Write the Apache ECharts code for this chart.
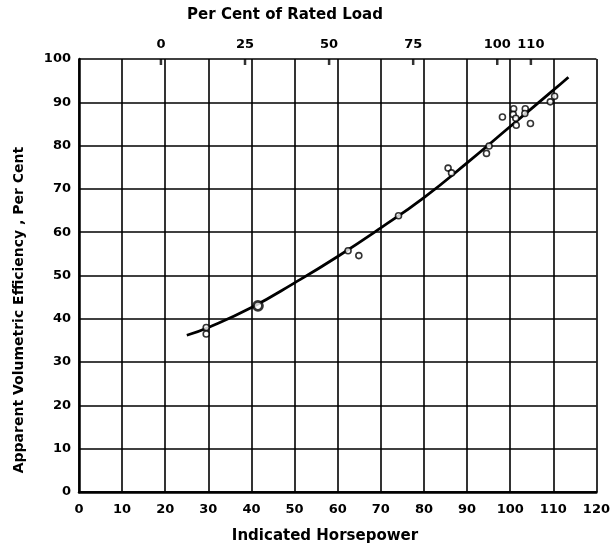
<!DOCTYPE html>
<html>
<head>
<meta charset="utf-8">
<script src="https://cdn.jsdelivr.net/npm/echarts@6/dist/echarts.min.js"></script>
<style>html,body{margin:0;padding:0;background:#fff}#c{width:613px;height:550px}</style>
</head>
<body>
<div id="c"></div>
<script>
// Observed points: indicated horsepower vs apparent volumetric efficiency (%)
const pointsHp  = [29.5, 29.5, 62.4, 64.9, 74.1, 85.6, 86.4, 94.5, 95.1, 98.2, 100.8, 100.7, 101.3, 101.4, 103.5, 103.4, 104.7, 109.3, 110.3];
const pointsEff = [38.0, 36.5, 55.7, 54.6, 63.8, 74.8, 73.7, 78.2, 79.9, 86.6, 88.5, 87.2, 86.3, 84.7, 88.5, 87.4, 85.1, 90.1, 91.4];
// Heavier (multiple) point
const bigHp  = [41.5];
const bigEff = [43.0];
// Fitted curve
const curveHp  = [25, 30, 40, 50, 60, 70, 80, 90, 100, 110, 113.5];
const curveEff = [36.2, 38.0, 42.6, 48.3, 54.4, 61.0, 68.0, 76.0, 84.4, 92.8, 95.8];
// Top scale: per cent of rated load
const loadTicks = [0, 25, 50, 75, 100, 110];
const loadZeroHp = 19;      // hp at 0 % load
const hpPerPercent = 0.78;  // hp per 1 % of rated load
const hpMin = 0, hpMax = 120;
const effMax = 100;

const font = 'DejaVu Sans';
const titleFont = 'bold 15px "DejaVu Sans"';
const chart = echarts.init(document.getElementById('c'));
chart.setOption({
  backgroundColor: '#fff',
  animation: false,
  grid: {left: 79, right: 13, top: 59, bottom: 58},
  xAxis: [{
    type: 'value', min: hpMin, max: hpMax, interval: 10, position: 'bottom',
    axisLine: {show: true, onZero: false, lineStyle: {color: '#000', width: 2.5}},
    axisTick: {show: false},
    axisLabel: {color: '#000', fontFamily: font, fontWeight: 'bold', fontSize: 13, margin: 11},
    splitLine: {show: true, lineStyle: {color: '#000', width: 1.6}}
  }, {
    type: 'value', position: 'top',
    min: (hpMin - loadZeroHp) / hpPerPercent,
    max: (hpMax - loadZeroHp) / hpPerPercent,
    axisLine: {show: true, lineStyle: {color: '#000', width: 1.6}},
    axisTick: {show: false},
    axisLabel: {show: true, customValues: loadTicks, color: '#000', fontFamily: font, fontWeight: 'bold', fontSize: 13, margin: 8},
    splitLine: {show: false}
  }],
  yAxis: {
    type: 'value', min: 0, max: effMax, interval: 10,
    axisLine: {show: true, lineStyle: {color: '#000', width: 2.5}},
    axisTick: {show: false},
    axisLabel: {color: '#000', fontFamily: font, fontWeight: 'bold', fontSize: 13, margin: 8},
    splitLine: {show: true, lineStyle: {color: '#000', width: 1.6}}
  },
  graphic: [
    {type: 'text', x: 285, y: 15, z: 10, style: {text: 'Per Cent of Rated Load', fill: '#000', font: titleFont, align: 'center', verticalAlign: 'middle'}},
    {type: 'text', x: 325, y: 536, z: 10, style: {text: 'Indicated Horsepower', fill: '#000', font: titleFont, align: 'center', verticalAlign: 'middle'}},
    {type: 'text', x: 19, y: 310, z: 10, rotation: Math.PI / 2, style: {text: 'Apparent Volumetric Efficiency , Per Cent', fill: '#000', font: 'bold 14px "DejaVu Sans"', align: 'center', verticalAlign: 'middle'}}
  ],
  series: [{
    type: 'line', xAxisIndex: 0, smooth: true, showSymbol: false,
    data: curveHp.map((x, i) => [x, curveEff[i]]),
    lineStyle: {color: '#000', width: 2.8}, z: 3
  }, {
    type: 'scatter', xAxisIndex: 0, symbol: 'circle', symbolSize: 6,
    data: pointsHp.map((x, i) => [x, pointsEff[i]]),
    itemStyle: {color: '#fff', borderColor: '#000', borderWidth: 1.6}, z: 5
  }, {
    type: 'scatter', xAxisIndex: 0, symbol: 'circle', symbolSize: 9,
    data: bigHp.map((x, i) => [x, bigEff[i]]),
    itemStyle: {color: '#fff', borderColor: '#000', borderWidth: 2.8}, z: 5
  }, {
    // short inward tick marks of the rated-load scale
    type: 'scatter', xAxisIndex: 1, symbol: 'rect', symbolSize: [2.5, 6], symbolOffset: [0, 3],
    data: loadTicks.map(p => [p, effMax]),
    itemStyle: {color: '#000'}, z: 6, silent: true
  }]
});
</script>
</body>
</html>
